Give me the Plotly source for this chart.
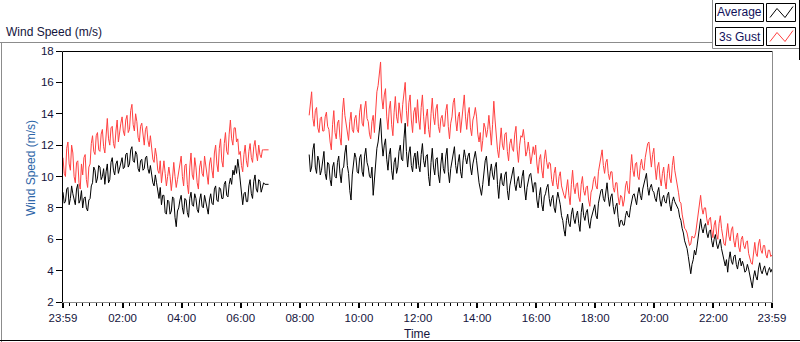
import plotly.graph_objects as go

# ---------------- data (hours since 23:59) ----------------
# samples every 5 minutes, plus the in-between readings (2.5 minutes later)
step_min = 2.5
average_seg1 = [
    9.0, 8.4, 9.3, 8.6, 8.9, 8.2, 9.5, 8.5, 8.0, 8.7, 7.8, 8.6,
    9.6, 10.4, 9.9, 10.6, 10.0, 9.5, 10.8, 9.8, 11.2, 10.1, 11.0, 10.6,
    11.2, 10.6, 11.5, 10.8, 11.9, 10.9, 11.4, 10.3, 11.1, 10.5, 11.3, 10.2,
    10.0, 9.4, 9.6, 8.6, 8.2, 8.8, 7.6, 8.4, 7.8, 8.6, 6.8, 8.0,
    8.8, 7.6, 8.5, 7.4, 9.0, 8.1, 8.6, 7.7, 8.9, 8.0, 8.4, 7.6,
    8.9, 8.2, 9.4, 8.4, 9.2, 8.6, 9.7, 8.7, 9.9, 10.4, 10.7, 11.1,
    9.6, 8.2, 9.0, 8.4, 9.8, 8.6, 10.1, 9.0, 9.7, 9.3, 9.5, 9.5,
]
average_seg1_mid = [
    8.3, 9.2, 8.2, 9.4, 8.4, 9.2, 8.3, 9.1, 8.6, 8.0, 8.5, 9.4,
    10.6, 9.6, 10.7, 9.8, 10.5, 10.3, 9.6, 10.9, 10.4, 10.8, 10.2, 11.0,
    10.5, 11.4, 10.6, 11.7, 11.0, 11.6, 10.5, 11.0, 10.4, 11.2, 10.5, 10.7,
    9.6, 10.1, 8.9, 9.3, 8.8, 7.7, 8.5, 7.6, 8.7, 7.4, 7.8, 8.5,
    8.0, 8.6, 7.7, 8.6, 8.2, 8.9, 7.9, 8.5, 8.1, 8.8, 7.8, 8.5,
    8.3, 9.2, 8.5, 9.3, 8.6, 9.5, 8.8, 9.5, 9.5, 10.1, 10.2, 10.5,
    8.6, 8.9, 8.4, 9.4, 8.9, 9.7, 9.2, 9.8, 9.0, 9.6, 9.5, 9.5,
]
gust_seg1 = [
    11.2, 10.0, 12.2, 10.4, 11.5, 9.6, 11.0, 9.2, 10.1, 11.4, 9.3, 10.8,
    12.6, 11.4, 12.8, 11.6, 13.0, 11.5, 13.7, 12.0, 13.2, 11.8, 13.6, 12.9,
    13.8, 12.6, 13.9, 13.0, 14.6, 12.9, 13.5, 12.2, 13.4, 12.0, 13.2, 11.9,
    11.8, 10.9, 11.3, 10.2, 9.6, 11.0, 9.4, 10.6, 9.1, 10.9, 9.3, 10.4,
    11.3, 9.4, 10.8, 8.9, 11.5, 9.8, 10.6, 9.2, 11.0, 10.0, 10.7, 9.5,
    11.2, 9.9, 12.0, 10.3, 12.4, 10.6, 12.8, 11.4, 13.6, 12.0, 13.1, 12.4,
    11.6, 10.3, 12.0, 10.6, 12.1, 10.9, 12.3, 11.0, 11.4, 11.7, 11.7, 11.7,
]
gust_seg1_mid = [
    10.2, 11.8, 10.8, 12.0, 10.0, 10.9, 9.6, 10.8, 11.2, 9.8, 10.6, 12.1,
    11.6, 12.6, 11.7, 12.7, 11.9, 13.0, 12.4, 13.1, 12.1, 12.9, 12.2, 13.4,
    12.9, 13.6, 12.8, 14.2, 13.3, 14.0, 12.5, 13.2, 12.4, 13.0, 12.3, 12.6,
    11.1, 11.8, 10.4, 11.0, 10.3, 10.2, 10.0, 10.0, 9.9, 10.0, 9.8, 11.0,
    10.0, 10.7, 9.5, 10.6, 10.1, 11.2, 9.6, 10.6, 10.2, 11.3, 9.8, 10.8,
    10.4, 11.5, 10.8, 11.8, 11.0, 12.1, 11.6, 12.7, 12.4, 13.1, 12.2, 11.4,
    10.7, 11.4, 11.0, 11.6, 11.2, 11.9, 11.5, 12.0, 11.2, 11.7, 11.7, 11.7,
]
gap_points = 32
average_seg2 = [
    11.4, 10.6, 12.1, 10.2, 11.0, 10.4, 11.6, 9.8,
    10.8, 9.4, 10.9, 9.9, 11.3, 9.6, 10.6, 12.0, 10.2, 8.5, 10.8, 11.2,
    10.2, 11.4, 10.0, 11.8, 10.6, 9.9, 8.8, 11.0, 12.2, 13.7, 11.3, 12.4,
    10.4, 11.8, 9.8, 11.2, 10.6, 12.0, 11.0, 13.4, 10.6, 11.9, 10.3, 11.5,
    11.6, 10.3, 12.1, 10.6, 11.4, 9.4, 11.8, 10.1, 11.2, 9.6, 11.5, 10.2,
    11.8, 9.6, 10.9, 11.9, 10.2, 11.4, 9.9, 11.7, 10.8, 11.5, 10.1, 11.2,
    11.0, 9.6, 8.8, 10.4, 11.3, 9.4, 10.8, 9.8, 10.9, 8.6, 10.2, 9.4,
    10.3, 8.5, 9.9, 10.6, 9.1, 10.0, 9.3, 10.4, 8.5, 9.7, 10.2, 9.0,
    9.6, 8.0, 9.3, 7.8, 8.9, 9.5, 8.1, 8.8, 7.7, 9.0, 8.2, 7.2,
    6.2, 7.6, 6.8, 8.0, 7.0, 7.8, 6.5, 8.3, 7.2, 7.9, 6.7, 7.6,
    8.2, 7.3, 8.8, 9.2, 8.4, 9.6, 8.1, 8.9, 7.6, 8.3, 6.8, 7.2,
    6.9, 7.8, 7.4, 8.4, 8.9, 8.2, 9.3, 8.5, 9.6, 10.2, 8.8, 9.5,
    9.0, 8.4, 9.3, 8.1, 8.8, 8.3, 9.0, 7.8, 8.7, 8.2, 7.9, 7.2,
    6.4, 5.6, 4.9, 3.8, 4.7, 5.0, 6.2, 7.3, 6.4, 7.0, 6.1, 6.6,
    5.5, 6.3, 5.4, 6.0, 5.0, 4.3, 3.9, 5.2, 4.4, 5.0, 4.1, 4.8,
    4.6, 3.9, 4.4, 3.6, 2.9, 4.0, 3.4, 4.5, 3.8, 4.3, 3.7, 4.2, 4.1,
]
average_seg2_mid = [
    10.3, 11.7, 10.6, 11.3, 10.1, 11.2, 10.2, 10.9,
    9.8, 10.6, 10.0, 10.9, 10.2, 10.5, 11.5, 10.7, 9.1, 10.1, 11.5, 10.3,
    11.2, 10.3, 11.3, 10.9, 10.0, 10.6, 10.0, 11.8, 12.9, 12.2, 12.0, 11.1,
    11.4, 10.4, 10.9, 10.2, 11.6, 11.1, 12.4, 11.6, 11.5, 10.7, 11.2, 10.5,
    10.7, 11.4, 11.0, 11.3, 10.0, 10.9, 10.6, 11.1, 10.1, 10.8, 10.5, 11.3,
    10.3, 10.5, 11.5, 10.7, 10.9, 10.3, 11.0, 11.2, 11.3, 10.6, 10.8, 11.6,
    10.0, 9.2, 9.5, 11.0, 10.0, 10.3, 10.1, 10.6, 9.5, 9.7, 9.5, 10.1,
    9.1, 9.4, 10.4, 9.5, 9.7, 9.3, 10.0, 9.2, 9.3, 10.1, 9.5, 9.6,
    8.5, 8.8, 8.2, 8.7, 9.3, 8.6, 8.6, 8.0, 8.5, 8.6, 7.5, 6.6,
    7.2, 7.0, 7.6, 7.3, 7.5, 7.0, 7.7, 7.5, 7.7, 7.1, 7.3, 8.0,
    7.5, 8.3, 9.1, 8.6, 9.2, 8.7, 8.7, 8.1, 8.1, 7.4, 7.2, 6.9,
    7.5, 7.5, 8.0, 8.8, 8.4, 8.9, 8.8, 9.2, 10.0, 9.3, 9.3, 9.1,
    8.6, 9.0, 8.5, 8.6, 8.4, 8.8, 8.2, 8.4, 8.4, 8.1, 7.4, 6.7,
    5.9, 5.4, 4.3, 4.4, 5.3, 5.5, 6.9, 6.7, 6.8, 6.4, 6.5, 5.9,
    6.0, 5.7, 5.7, 5.4, 4.7, 4.7, 4.7, 4.6, 4.9, 4.4, 4.6, 4.3,
    4.3, 4.0, 4.1, 3.2, 3.6, 3.6, 4.1, 4.0, 4.1, 3.9, 4.0, 3.9,
]
gust_seg2 = [
    13.9, 15.4, 13.2, 14.4, 12.8, 13.8, 12.9, 14.1,
    13.0, 11.7, 14.2, 12.4, 13.6, 12.0, 15.0, 13.4, 12.3, 14.1, 12.8, 13.9,
    12.8, 14.6, 13.2, 14.8, 13.5, 12.4, 13.9, 14.2, 15.8, 17.3, 14.3, 15.6,
    13.0, 14.8, 12.6, 15.1, 13.4, 14.0, 14.6, 16.0, 13.2, 15.2, 12.8, 14.4,
    14.9, 13.0, 15.2, 12.7, 14.3, 12.5, 15.0, 13.3, 14.6, 12.8, 13.9, 13.2,
    14.6, 12.4, 13.8, 15.0, 12.9, 14.1, 13.5, 15.2, 13.0, 14.4, 12.6, 13.9,
    13.8, 12.2, 11.6, 13.4, 12.5, 13.9, 12.0, 14.8, 12.4, 11.2, 13.1, 11.7,
    12.8, 11.0, 12.4, 11.6, 13.2, 10.9, 12.6, 13.0, 11.3, 12.2, 10.8, 11.9,
    12.0, 10.2, 11.4, 9.9, 11.7, 10.5, 10.8, 9.4, 10.6, 9.2, 10.3, 9.0,
    8.6, 9.8, 8.2, 10.4, 8.9, 9.6, 8.4, 10.0, 8.8, 9.4, 8.1, 9.2,
    10.0, 9.2, 10.8, 11.7, 10.2, 11.1, 9.8, 10.3, 9.0, 9.6, 8.2, 8.7,
    8.5, 9.7, 8.9, 11.4, 10.0, 10.9, 9.8, 11.1, 10.4, 11.6, 12.2, 10.6,
    11.8, 9.8, 10.9, 9.4, 10.6, 9.2, 10.8, 9.6, 11.3, 10.0, 9.0, 8.3,
    7.2, 6.6, 6.0, 5.7, 6.1, 6.4, 7.4, 8.8, 7.6, 8.0, 6.9, 7.4,
    6.1, 7.2, 6.0, 7.5, 6.3, 5.6, 7.0, 5.9, 6.8, 5.5, 6.4, 5.2,
    6.2, 5.4, 5.9, 4.8, 4.4, 5.8, 4.9, 6.0, 5.1, 5.6, 4.8, 5.3, 5.0,
]
gust_seg2_mid = [
    14.8, 13.7, 14.2, 13.1, 13.7, 12.9, 13.8, 13.2,
    12.2, 13.3, 12.8, 13.4, 12.5, 14.1, 13.9, 12.6, 13.5, 13.0, 13.7, 13.0,
    14.1, 13.4, 14.3, 13.7, 12.7, 13.5, 12.8, 15.4, 16.6, 15.0, 15.2, 13.8,
    14.3, 13.3, 14.1, 13.8, 14.7, 13.4, 15.5, 14.2, 14.7, 13.6, 14.1, 13.4,
    13.6, 14.4, 13.8, 13.8, 13.0, 14.0, 13.8, 14.3, 13.2, 13.7, 13.2, 14.2,
    13.2, 13.4, 14.7, 13.6, 13.8, 12.8, 14.6, 13.8, 14.0, 13.1, 13.6, 14.4,
    12.7, 12.8, 12.3, 13.1, 13.0, 13.0, 13.3, 13.6, 11.7, 12.5, 12.0, 12.7,
    11.6, 12.1, 11.8, 12.7, 11.7, 12.0, 12.5, 12.3, 11.6, 11.6, 11.3, 11.4,
    10.8, 11.1, 10.4, 11.1, 10.9, 10.9, 9.8, 10.2, 9.6, 10.0, 9.4, 8.8,
    9.4, 8.8, 9.5, 9.3, 9.5, 8.7, 9.5, 9.1, 9.3, 8.5, 9.0, 9.8,
    9.4, 10.3, 11.4, 10.7, 10.9, 10.2, 10.3, 9.3, 9.6, 8.7, 8.8, 8.1,
    9.4, 9.1, 10.4, 10.4, 10.8, 10.0, 10.7, 10.5, 11.2, 12.1, 11.1, 11.4,
    10.6, 10.6, 9.9, 10.2, 9.7, 10.2, 9.9, 10.7, 10.4, 9.6, 8.4, 7.6,
    6.7, 6.4, 5.6, 6.2, 6.1, 7.1, 8.3, 8.0, 8.0, 7.3, 7.3, 6.6,
    6.9, 6.3, 7.0, 6.7, 5.7, 6.6, 6.2, 6.6, 5.9, 6.1, 5.5, 6.0,
    5.6, 5.8, 5.1, 4.5, 5.3, 5.1, 5.7, 5.3, 5.6, 5.0, 5.3, 4.9,
]
series_names = ["Average", "3s Gust"]
series_colors = ["#000000", "#ff4040"]

tick_hours = [0, 2, 4, 6, 8, 10, 12, 14, 16, 18, 20, 22, 24]
tick_labels = ["23:59", "02:00", "04:00", "06:00", "08:00", "10:00", "12:00",
               "14:00", "16:00", "18:00", "20:00", "22:00", "23:59"]
y_ticks = [2, 4, 6, 8, 10, 12, 14, 16, 18]


# ---------------- build ----------------
def interleave(samples, mids):
    out = []
    for i, s in enumerate(samples):
        out.append(s)
        if i < len(mids):
            out.append(mids[i])
    return out


average = (interleave(average_seg1, average_seg1_mid) + [None] * gap_points
           + interleave(average_seg2, average_seg2_mid))
gust = (interleave(gust_seg1, gust_seg1_mid) + [None] * gap_points
        + interleave(gust_seg2, gust_seg2_mid))
t = [i * step_min / 60 for i in range(len(average))]

# major tick positions (clock hour offset by the one minute from 23:59)
major = [0] + [h + 1 / 60 for h in tick_hours[1:-1]] + [24]
minor = []
for a, b in zip(major[:-1], major[1:]):
    for k in range(1, 9):
        minor.append(a + (b - a) * k / 9)

W, H = 800, 342
L, R, T, B = 63, 28, 51, 40
PW, PH = W - L - R, H - T - B


def px(x):
    return (x - L) / PW


def py(y):
    return (H - B - y) / PH


FONT = "Liberation Sans, Arial, sans-serif"
TXT = "#14143c"

fig = go.Figure()
fig.add_trace(go.Scatter(x=t, y=average, mode="lines", name=series_names[0],
                         line=dict(color=series_colors[0], width=1),
                         connectgaps=False))
fig.add_trace(go.Scatter(x=t, y=gust, mode="lines", name=series_names[1],
                         line=dict(color=series_colors[1], width=1),
                         connectgaps=False))

line_black = dict(color="#000000", width=1)
line_gray = dict(color="#8c8c8c", width=1)
shapes = []


def seg(x0, y0, x1, y1, line):
    shapes.append(dict(type="line", xref="paper", yref="paper",
                       x0=px(x0), y0=py(y0), x1=px(x1), y1=py(y1), line=line))


def rect(x0, y0, x1, y1, line, fill="white"):
    shapes.append(dict(type="rect", xref="paper", yref="paper",
                       x0=px(x0), y0=py(y0), x1=px(x1), y1=py(y1),
                       line=line, fillcolor=fill, layer="above"))


# outer frame
seg(0, 42.5, 712, 42.5, line_gray)
seg(1.5, 42.5, 1.5, 342, line_gray)
seg(0, 340.5, 800, 340.5, line_black)
# plot area border (sunken look)
seg(62.5, 51.5, 772.5, 51.5, line_black)
seg(62.5, 51.5, 62.5, 302.5, line_black)
seg(772.5, 51.5, 772.5, 302.5, line_gray)
seg(62.5, 302.5, 772.5, 302.5, line_gray)

# legend
seg(712.5, 0, 712.5, 48.5, line_gray)
seg(712.5, 48.5, 799, 48.5, line_gray)
seg(799.5, 0, 799.5, 60, line_black)
rect(715.5, 3.5, 763.5, 21.5, line_black)
rect(766.5, 3.5, 795.5, 21.5, line_black)
rect(715.5, 27.5, 763.5, 45.5, line_black)
rect(766.5, 27.5, 795.5, 45.5, line_black)


def zig(y0, color):
    pts = [(770, y0 + 14), (777, y0 + 5), (785, y0 + 14), (793, y0 + 3)]
    path = "M " + " L ".join(f"{px(a)},{py(b)}" for a, b in pts)
    shapes.append(dict(type="path", xref="paper", yref="paper", path=path,
                       line=dict(color=color, width=1), layer="above"))


zig(3.5, series_colors[0])
zig(27.5, series_colors[1])

annotations = [
    dict(text="Wind Speed (m/s)", x=px(4), y=py(32), xref="paper", yref="paper",
         xanchor="left", yanchor="middle", showarrow=False,
         font=dict(family=FONT, size=12, color=TXT)),
    dict(text="Wind Speed (m/s)", x=px(31), y=py(168), xref="paper", yref="paper",
         xanchor="center", yanchor="middle", textangle=-90, showarrow=False,
         font=dict(family=FONT, size=12, color="#2e66a8")),
    dict(text="Time", x=px(417), y=py(334), xref="paper", yref="paper",
         xanchor="center", yanchor="middle", showarrow=False,
         font=dict(family=FONT, size=12, color=TXT)),
    dict(text=series_names[0], x=px(739.5), y=py(12.5), xref="paper", yref="paper",
         xanchor="center", yanchor="middle", showarrow=False,
         font=dict(family=FONT, size=12, color="#10105a")),
    dict(text=series_names[1], x=px(739.5), y=py(36.5), xref="paper", yref="paper",
         xanchor="center", yanchor="middle", showarrow=False,
         font=dict(family=FONT, size=12, color="#10105a")),
]

fig.update_layout(
    width=W, height=H,
    margin=dict(l=L, r=R, t=T, b=B, pad=0),
    paper_bgcolor="white", plot_bgcolor="white",
    showlegend=False,
    shapes=shapes, annotations=annotations,
    font=dict(family=FONT, size=12, color=TXT),
    xaxis=dict(range=[0, 24], showgrid=False, zeroline=False, showline=False,
               tickmode="array", tickvals=major, ticktext=tick_labels,
               ticks="outside", ticklen=5, tickwidth=2, tickcolor="#000000",
               tickfont=dict(family=FONT, size=11.5, color=TXT),
               minor=dict(tickmode="array", tickvals=minor, ticks="outside",
                          ticklen=3, tickwidth=1, tickcolor="#000000",
                          showgrid=False)),
    yaxis=dict(range=[2, 18], showgrid=False, zeroline=False, showline=False,
               tickmode="array", tickvals=y_ticks,
               ticks="outside", ticklen=6, tickwidth=1, tickcolor="#000000",
               tickfont=dict(family=FONT, size=11.5, color=TXT)),
)

fig.write_html(
    "out.html",
    config={"displayModeBar": False},
    post_script="document.body.style.margin='0';"
                "document.body.style.overflow='hidden';",
)
